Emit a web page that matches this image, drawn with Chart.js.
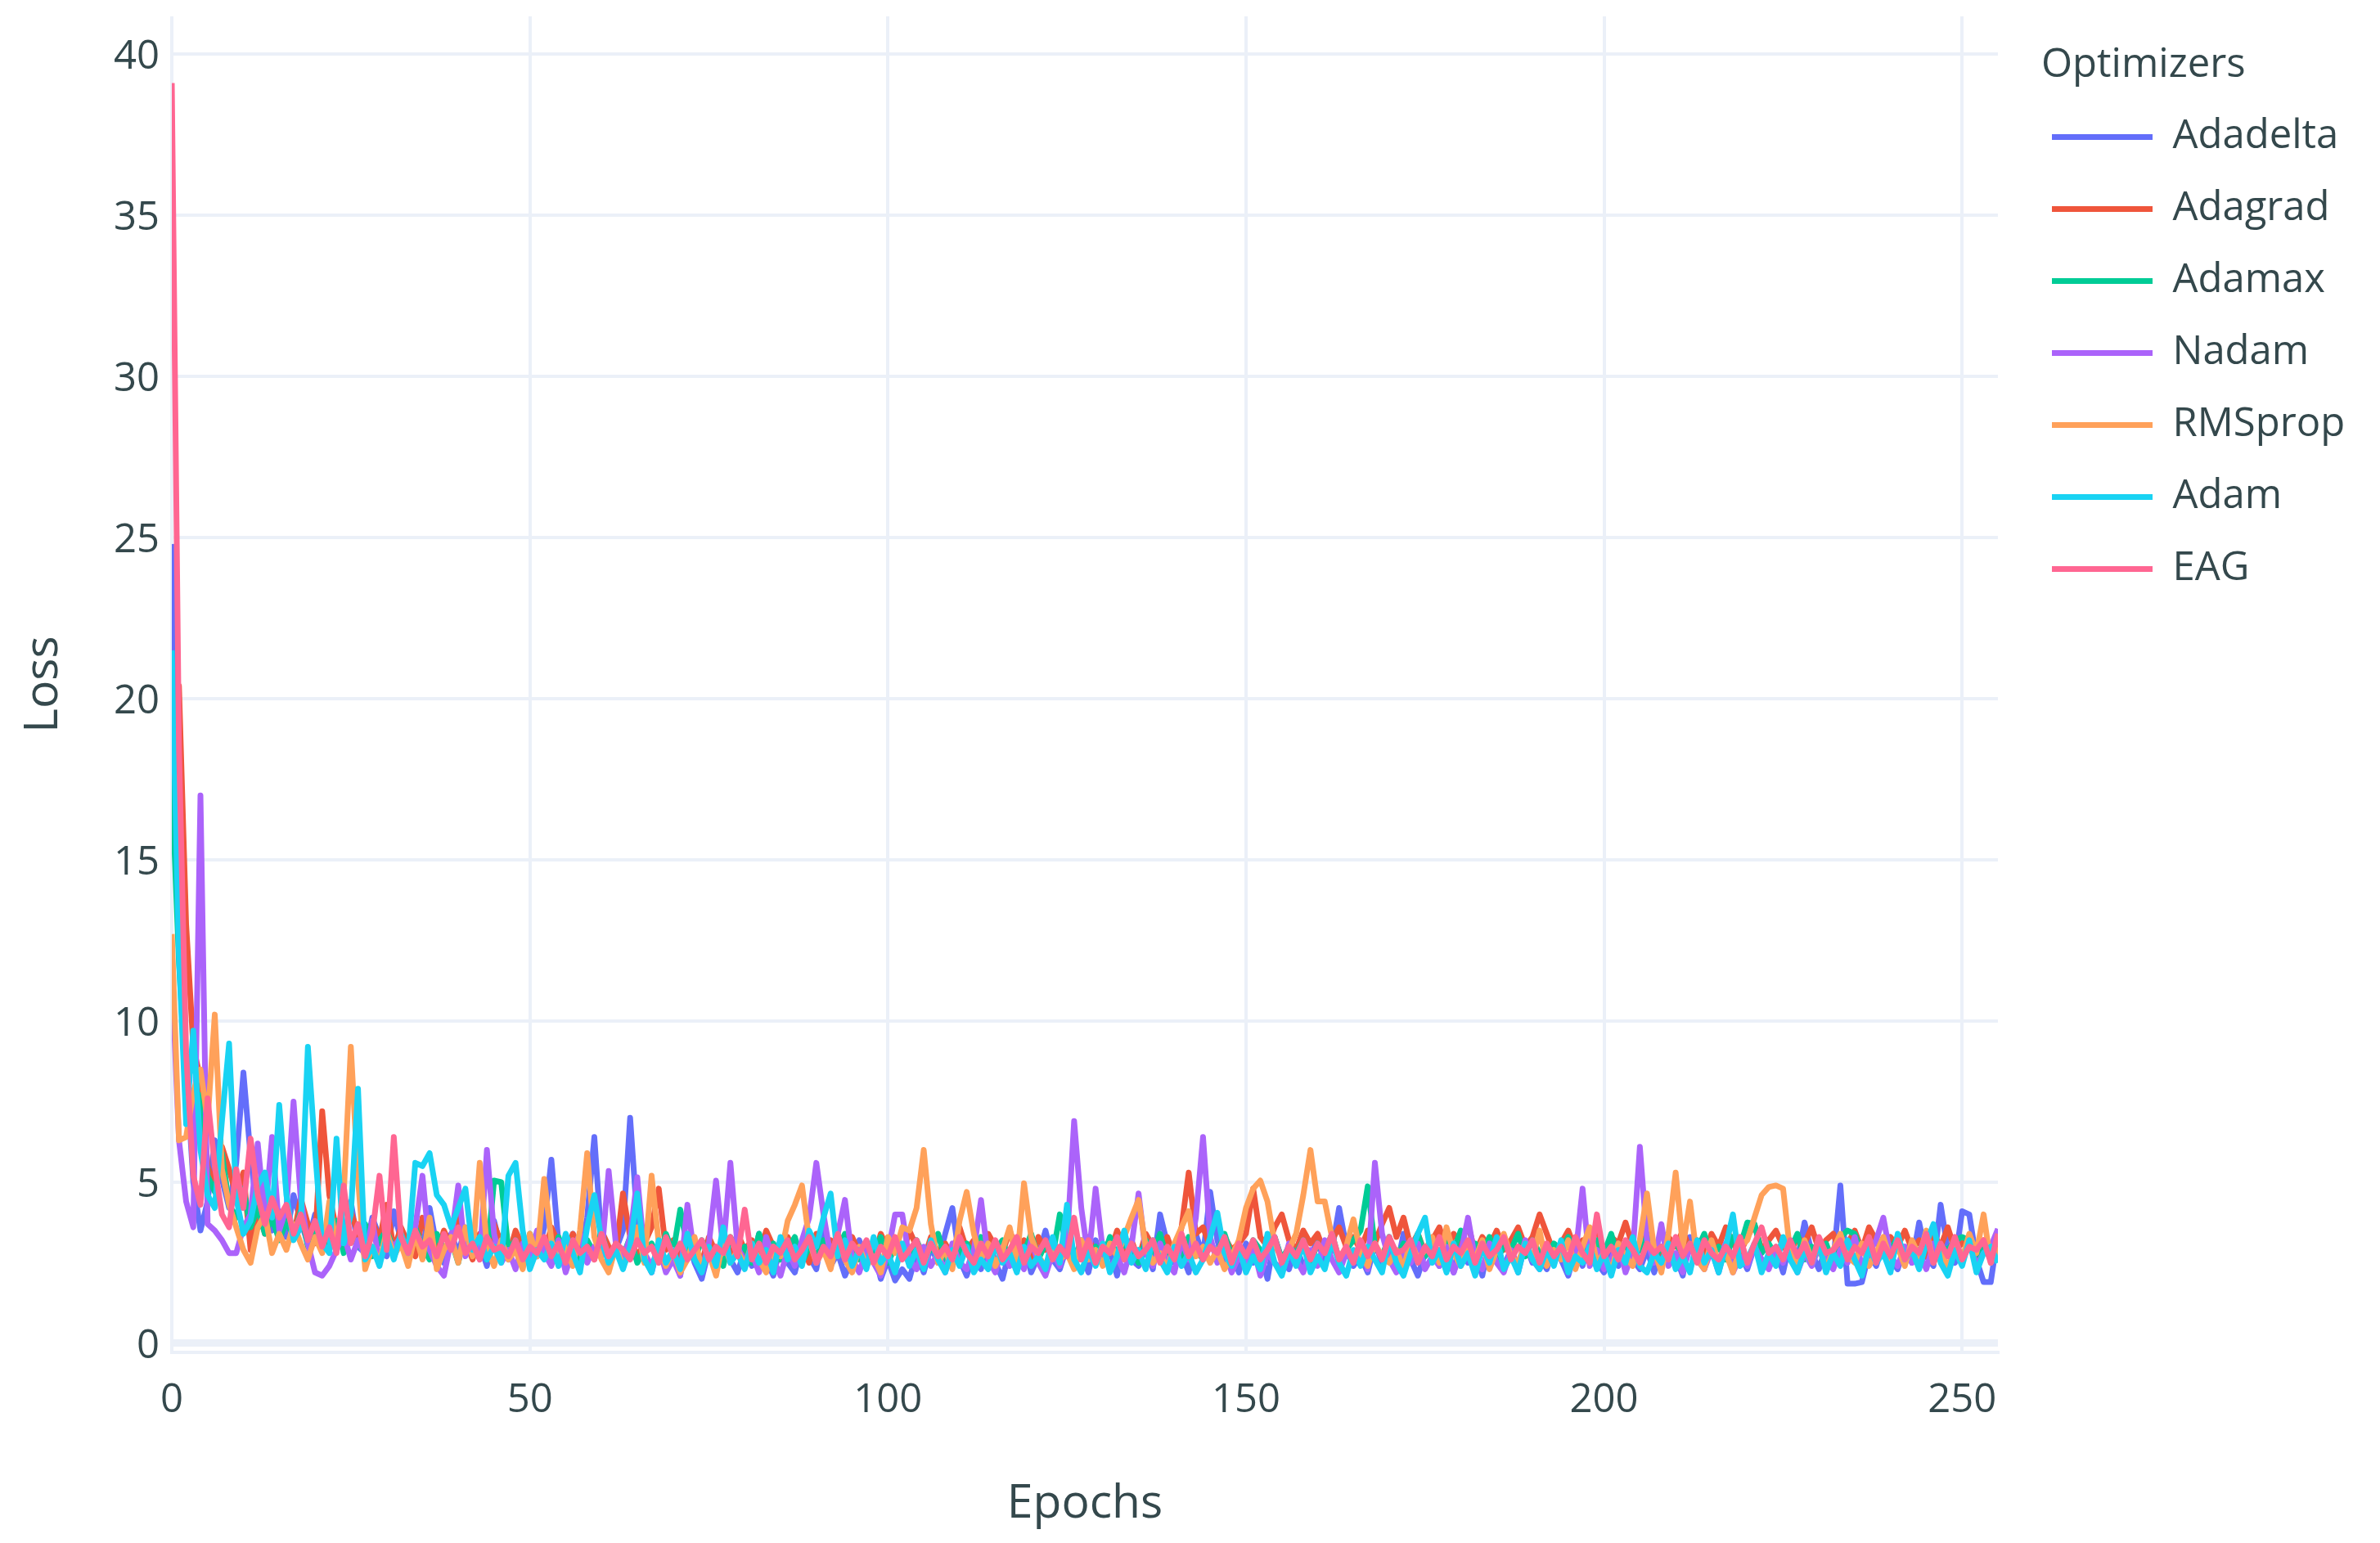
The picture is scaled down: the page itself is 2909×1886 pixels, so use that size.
<!DOCTYPE html>
<html>
<head>
<meta charset="utf-8">
<script src="https://cdn.jsdelivr.net/npm/chart.js@4.4.1/dist/chart.umd.min.js"></script>
<style>
  html, body { margin: 0; padding: 0; background: #ffffff; }
  #wrap { width: 2909px; height: 1886px; position: relative; }
  canvas { display: block; }
</style>
</head>
<body>
<div id="wrap"><canvas id="c" width="2909" height="1886"></canvas></div>
<script>
const seriesNames = ['Adadelta', 'Adagrad', 'Adamax', 'Nadam', 'RMSprop', 'Adam', 'EAG'];
const seriesColors = ['#636EFA', '#EF553B', '#00CC96', '#AB63FA', '#FFA15A', '#19D3F3', '#FF6692'];
const xTicks = [0, 50, 100, 150, 200, 250];
const yTicks = [0, 5, 10, 15, 20, 25, 30, 35, 40];
const xTitle = 'Epochs';
const yTitle = 'Loss';
const legendTitle = 'Optimizers';

const adadelta = [
 24.8,13.2,8.6,5.0,3.5,4.4,6.3,5.1,4.2,5.6,8.4,5.8,3.9,4.5,3.5,4.1,
 3.3,4.6,3.8,3.1,4.0,3.4,2.9,3.7,3.2,4.4,3.0,2.8,3.9,3.3,2.7,4.1,
 3.2,2.6,3.5,2.9,4.2,3.0,2.5,3.4,2.8,3.6,2.7,3.1,2.4,3.8,2.9,2.6,
 3.3,2.4,3.0,2.7,3.6,5.7,3.1,2.5,3.4,2.8,3.9,6.4,3.2,2.6,2.9,3.5,
 7.0,3.8,2.7,2.2,3.1,2.4,2.8,2.1,3.3,2.5,2.0,2.9,2.3,3.2,2.6,2.2,
 2.9,2.4,3.4,2.6,2.1,3.0,2.5,2.2,3.1,2.7,2.3,3.5,2.4,2.8,2.1,2.6,
 3.2,2.4,2.9,2.0,2.6,1.95,2.3,2.0,2.8,2.2,3.0,2.5,3.4,4.2,2.6,2.1,
 2.8,2.3,3.3,2.5,2.0,2.9,2.4,3.1,2.2,2.7,3.5,2.6,2.3,3.0,2.4,2.8,
 2.2,3.2,2.5,2.9,2.1,3.3,2.6,2.4,3.0,2.3,4.0,3.1,2.5,2.8,2.2,3.4,
 2.7,4.7,3.2,2.4,2.9,2.2,3.1,2.5,2.8,2.0,3.3,2.6,2.3,3.0,2.4,2.7,
 3.2,2.5,2.9,4.2,3.0,2.4,2.7,2.2,3.1,2.5,2.9,2.3,3.4,2.6,2.1,2.8,
 3.0,2.4,2.7,2.2,3.3,2.5,2.8,2.1,3.2,2.6,2.4,2.9,2.2,3.1,2.5,2.7,
 2.3,3.0,2.6,2.1,2.9,2.4,3.2,2.5,2.2,2.8,2.4,3.1,2.6,2.3,2.9,2.2,
 3.0,2.5,2.7,2.1,3.3,2.6,2.4,2.9,2.2,3.1,2.5,2.8,2.3,3.0,2.6,2.4,
 2.9,2.2,3.2,2.6,3.75,2.8,2.3,3.0,2.5,4.9,1.85,1.85,1.9,2.8,2.4,3.1,
 2.6,2.3,3.0,2.5,3.75,2.7,2.4,4.3,2.9,2.5,4.1,4.0,2.6,1.9,1.9,3.4
];
const adagrad = [
 16.0,20.4,13.0,9.2,8.2,5.5,4.9,6.1,5.4,4.6,5.3,2.9,4.2,3.4,4.4,3.6,
 4.0,3.3,4.5,3.7,3.1,7.2,4.6,3.5,3.0,4.1,3.4,2.8,3.8,3.2,4.3,2.9,
 3.6,3.1,2.7,3.9,3.3,2.8,3.5,3.0,4.0,3.2,2.6,3.4,2.9,3.7,3.1,2.7,
 3.5,3.0,2.6,3.3,2.8,3.6,3.1,2.7,3.4,2.9,3.2,2.6,3.5,3.0,2.8,4.65,
 3.3,2.7,3.1,3.6,4.8,2.9,3.2,2.6,3.4,2.9,2.5,3.3,2.8,3.0,2.6,3.4,
 2.9,3.2,2.7,3.5,3.0,2.6,3.3,2.8,3.1,2.5,3.4,2.9,3.2,2.7,3.0,3.3,
 2.8,3.1,2.6,3.4,2.9,3.2,2.7,3.5,3.0,2.6,3.3,2.8,3.1,2.7,3.6,2.9,
 3.2,2.6,3.4,3.0,2.8,3.5,2.9,3.2,2.6,3.3,2.9,3.1,2.7,3.4,2.8,3.0,
 3.3,2.7,3.1,2.8,3.5,2.9,3.2,2.6,3.4,3.0,2.8,3.3,2.7,3.6,5.3,3.4,
 3.6,3.0,2.8,3.3,2.9,3.1,3.4,4.8,3.3,3.0,3.6,4.0,3.2,2.9,3.5,3.1,
 3.4,2.8,3.2,3.6,3.0,3.3,2.9,3.5,3.1,3.7,4.2,3.3,3.9,3.0,3.4,2.8,
 3.2,3.6,2.9,3.4,3.1,3.7,2.8,3.3,3.0,3.5,2.9,3.2,3.6,3.0,3.3,4.0,
 3.4,2.8,3.1,3.5,2.9,3.2,3.0,3.6,2.8,3.3,3.1,3.75,3.0,2.9,3.4,3.1,
 2.8,3.3,3.0,3.5,2.9,3.2,2.7,3.4,3.0,3.6,3.1,2.8,3.3,3.7,2.9,3.2,
 3.5,3.0,2.8,3.3,3.1,3.6,2.9,3.2,3.4,2.8,3.1,3.5,2.9,3.6,3.2,2.8,
 3.3,3.0,3.5,2.9,3.2,2.7,3.4,3.0,3.6,2.9,3.1,3.3,2.8,3.2,3.0,3.4
];
const adamax = [
 17.5,11.8,8.0,6.4,7.7,5.2,4.7,5.9,4.3,3.9,4.8,3.6,4.2,3.4,3.9,3.2,
 3.8,3.3,4.1,3.0,3.6,2.9,3.4,3.8,2.8,3.3,3.0,3.7,2.7,3.2,3.5,2.9,
 3.3,2.7,3.6,3.0,2.6,3.4,2.9,3.2,2.5,3.5,2.8,3.1,2.6,5.05,5.0,2.9,
 3.2,2.5,3.4,2.8,3.1,2.6,3.3,2.7,3.0,2.4,3.2,2.8,3.5,2.6,3.0,2.7,
 3.3,2.5,2.9,3.1,2.6,3.4,2.8,4.15,3.0,2.6,3.2,2.7,2.9,2.4,3.3,2.8,
 3.0,2.5,3.4,2.7,3.1,2.6,2.9,3.3,2.5,3.0,2.7,3.2,2.6,2.9,3.4,2.8,
 2.6,3.1,2.7,3.3,2.5,3.0,2.8,2.6,3.2,2.7,2.9,3.4,2.6,3.0,2.8,3.1,
 2.7,3.3,2.6,2.9,3.2,2.5,3.0,2.8,3.4,2.6,3.1,2.7,4.0,2.9,2.6,3.2,
 2.8,3.0,2.6,3.3,2.7,3.1,2.9,2.5,3.2,2.8,3.4,2.6,3.0,2.7,3.3,2.9,
 2.6,3.1,2.8,3.4,2.7,3.0,2.5,3.2,2.9,2.7,3.3,2.6,3.0,2.8,3.2,2.5,
 3.1,2.8,3.4,2.6,2.9,3.2,3.5,4.87,3.0,2.7,3.3,2.6,3.1,2.8,3.4,2.7,
 3.0,2.6,3.2,2.9,3.5,2.7,3.1,2.8,3.3,2.6,3.0,2.9,3.4,2.7,3.2,2.8,
 2.6,3.1,2.9,3.3,2.7,3.0,2.5,3.2,2.8,3.4,2.6,3.1,2.7,2.9,3.3,2.6,
 3.0,2.8,3.2,2.6,3.1,2.9,3.4,2.7,3.0,2.6,3.3,3.0,3.75,3.7,2.8,3.1,
 2.7,3.2,2.9,3.4,2.6,3.0,2.8,3.1,2.5,3.3,3.5,3.4,2.8,3.2,2.6,3.0,
 2.9,3.3,2.7,3.1,2.8,3.4,2.6,3.0,2.9,3.2,3.3,3.2,2.7,3.0,2.8,3.1
];
const nadam = [
 11.5,6.3,4.4,3.6,17.0,3.7,3.5,3.2,2.8,2.8,3.6,4.0,6.2,3.9,6.4,3.5,
 4.2,7.5,4.5,3.1,2.2,2.1,2.4,2.9,3.4,2.6,3.2,2.7,3.8,2.5,3.3,3.0,
 3.3,2.8,3.6,5.2,2.9,2.4,2.1,3.2,4.9,2.7,3.3,2.6,6.0,3.4,2.5,2.9,
 2.3,3.1,2.6,3.5,2.8,2.4,3.2,2.2,2.9,3.4,2.5,3.0,2.7,5.35,3.1,2.6,
 3.3,5.15,2.8,2.4,3.0,2.2,2.6,2.1,4.3,2.7,2.3,3.1,5.05,2.9,5.6,3.0,
 2.5,2.8,2.2,3.3,2.6,2.1,2.9,2.4,3.2,3.9,5.6,4.0,2.7,3.4,4.45,2.6,
 2.2,2.9,2.5,2.1,2.8,4.0,4.0,2.6,2.3,3.0,2.4,2.8,2.2,3.1,2.5,2.3,
 2.9,4.45,2.6,2.2,3.0,2.4,2.7,2.3,3.2,2.5,2.1,2.8,2.4,3.1,6.9,4.2,
 2.6,4.8,2.9,2.3,2.7,2.2,3.0,4.65,2.8,2.4,3.1,2.5,2.2,3.2,2.6,3.9,
 6.4,3.3,2.5,2.9,2.2,2.7,2.4,3.0,2.1,2.8,2.5,2.3,3.1,2.6,2.2,2.9,
 2.4,3.2,2.6,2.2,2.8,2.5,3.0,2.3,5.6,3.4,2.6,2.2,2.9,2.5,3.1,2.3,
 2.7,2.4,3.0,2.2,2.8,3.9,2.6,2.3,3.1,2.5,2.2,2.9,2.4,3.2,2.6,2.3,
 2.8,2.5,3.0,2.2,2.7,4.8,2.4,2.9,2.3,2.6,3.1,2.2,2.8,6.1,3.2,2.5,
 3.7,2.4,2.8,2.2,3.0,2.6,2.3,2.9,2.5,3.1,2.2,2.7,2.4,3.0,2.6,2.3,
 2.9,2.5,3.2,2.2,2.8,2.4,3.0,2.6,2.3,2.9,2.5,3.3,2.4,2.8,3.2,3.9,
 2.7,2.4,3.0,2.5,2.8,2.3,3.1,2.6,2.2,2.9,2.5,3.2,2.4,2.8,3.0,3.55
];
const rmsprop = [
 12.7,6.3,6.4,7.8,8.5,6.9,10.2,5.4,4.3,3.6,2.9,2.5,3.6,4.0,2.8,3.4,
 2.9,3.7,3.1,2.6,3.3,2.8,4.4,3.0,4.6,9.2,5.1,2.3,3.0,2.5,3.5,2.7,
 3.1,2.4,3.4,2.6,3.9,2.3,2.9,3.3,2.5,3.6,2.7,5.6,3.0,2.4,3.2,2.6,
 2.9,2.3,3.4,2.7,5.1,3.2,2.5,3.0,2.4,3.5,5.9,3.3,2.6,2.2,3.0,2.4,
 2.8,3.6,2.5,5.2,3.1,2.4,2.9,2.2,2.6,3.3,2.3,2.8,2.1,3.2,2.5,2.9,
 2.4,3.1,2.6,2.2,3.0,2.7,3.8,4.3,4.9,3.2,2.5,2.9,2.3,3.3,2.6,2.2,
 3.0,2.4,2.7,2.2,3.3,2.8,3.6,3.5,4.2,6.0,3.7,2.5,2.9,2.3,3.8,4.7,
 3.4,2.6,3.1,2.4,2.9,3.6,2.5,4.97,3.3,2.7,2.4,3.0,2.6,2.8,2.3,3.2,
 2.6,2.9,2.4,3.1,2.7,3.3,3.9,4.45,3.0,2.5,2.8,2.3,3.1,3.6,4.1,2.7,
 3.0,2.5,2.9,2.3,2.7,3.2,4.2,4.8,5.05,4.4,3.1,2.6,2.9,3.4,4.6,6.0,
 4.4,4.4,3.3,2.6,3.0,3.85,2.8,2.4,3.1,2.7,2.5,2.9,2.3,3.2,2.6,2.9,
 3.3,2.5,3.6,2.8,2.4,3.0,2.6,3.2,2.3,2.9,3.4,2.7,2.5,3.1,2.6,3.5,
 2.4,2.9,2.6,3.2,2.3,3.0,3.6,2.5,2.8,2.2,3.1,2.7,2.4,3.2,4.65,2.9,
 2.2,3.4,5.3,3.0,4.4,2.6,2.3,3.2,2.5,2.8,2.2,3.0,3.2,3.9,4.6,4.85,
 4.9,4.8,2.8,2.4,3.2,2.6,3.0,2.3,2.9,3.4,2.7,2.5,3.1,2.4,2.8,3.3,
 2.6,3.0,2.4,3.2,2.7,3.5,2.5,2.9,2.3,3.1,2.6,3.4,2.8,4.0,2.5,3.0
];
const adam = [
 21.5,12.0,6.8,9.7,6.0,4.6,4.2,6.9,9.3,4.5,3.4,3.8,4.9,5.3,3.9,7.4,
 4.6,3.2,3.6,9.2,6.0,3.1,2.8,6.35,3.1,4.0,7.9,2.6,3.0,2.4,3.3,2.6,
 3.4,2.8,5.6,5.5,5.9,4.6,4.3,3.6,4.2,4.8,2.9,3.3,2.6,3.0,2.5,5.2,
 5.6,3.5,2.3,2.9,2.6,3.1,2.4,3.4,2.8,2.2,3.6,4.6,3.2,2.5,2.9,2.3,
 3.0,4.65,2.6,2.2,3.2,2.5,2.9,2.3,3.4,2.6,2.2,3.0,2.4,3.6,2.5,2.8,
 2.3,3.1,2.5,2.9,2.2,3.3,2.6,3.0,2.4,3.5,3.0,3.9,4.65,2.7,3.2,2.4,
 2.9,2.3,3.3,2.5,2.8,2.2,3.1,2.4,2.9,2.3,3.2,2.6,2.2,2.9,2.4,3.0,
 2.2,2.6,2.3,3.1,2.5,2.8,2.2,3.0,2.4,2.7,2.3,3.3,2.5,4.3,2.6,2.2,
 2.9,2.4,3.1,2.2,2.7,3.5,2.5,2.9,2.3,3.2,2.6,2.2,3.0,2.4,2.8,2.2,
 2.6,3.3,4.05,2.8,2.4,3.0,2.2,2.7,2.3,3.4,2.5,2.1,2.9,2.4,3.1,2.2,
 2.7,2.3,3.2,2.5,2.1,2.9,2.4,3.0,2.6,2.2,3.3,2.5,2.1,2.8,3.4,3.9,
 2.5,2.9,2.2,3.1,2.4,2.8,2.1,3.0,2.5,3.3,2.3,2.7,2.2,3.1,2.6,2.3,
 2.9,2.4,3.2,2.2,2.7,2.5,3.0,2.3,2.8,2.1,2.9,2.5,3.3,2.4,2.2,2.8,
 2.5,3.1,2.3,2.7,2.2,3.2,2.5,2.9,2.2,3.0,4.0,2.4,2.6,3.1,2.2,2.8,
 2.4,3.3,2.6,2.2,2.9,2.5,3.1,2.2,2.8,2.4,3.2,2.6,2.1,3.0,2.5,2.8,
 2.2,3.4,2.6,2.9,2.3,3.1,3.7,2.5,2.1,2.9,2.4,3.2,2.2,2.8,3.0,2.5
];
const eag = [
 39.1,18.5,9.0,5.2,4.3,7.6,5.5,4.0,3.6,5.4,4.2,6.35,4.6,3.7,4.5,3.9,
 4.3,3.4,4.0,3.2,3.8,3.0,3.6,2.8,4.9,3.1,3.7,2.7,3.4,5.2,2.9,6.4,
 3.3,2.8,3.5,3.0,3.2,2.7,3.4,2.9,3.6,2.8,3.1,2.6,3.3,2.9,3.0,2.7,
 3.2,2.6,3.0,2.8,3.3,2.7,3.1,2.5,3.2,2.8,3.0,2.6,3.4,2.7,3.1,2.9,
 2.6,3.2,2.8,3.0,2.5,3.3,2.7,3.1,2.6,2.9,3.2,2.6,3.0,2.8,3.3,2.7,
 4.15,2.6,3.1,2.5,3.0,2.8,3.2,2.6,2.9,3.3,2.5,3.0,2.7,3.4,2.6,3.1,
 2.8,3.2,2.5,3.0,2.7,3.3,2.6,2.9,3.2,2.5,3.1,2.7,3.0,2.6,3.3,2.8,
 2.5,3.1,2.7,3.2,2.6,2.9,3.3,2.5,3.0,2.8,3.2,2.6,3.0,2.7,3.9,2.6,
 3.2,2.5,3.0,2.8,3.3,2.6,3.1,2.7,2.9,3.2,2.5,3.0,2.6,3.4,2.7,3.1,
 2.6,3.0,2.8,3.3,2.5,3.1,2.7,3.2,2.6,2.9,3.3,2.5,3.0,2.7,3.2,2.6,
 3.1,2.8,3.4,2.6,3.0,2.5,3.2,2.7,3.1,2.6,3.3,2.8,2.9,3.2,2.5,3.0,
 2.7,3.3,2.6,3.0,2.8,3.2,2.5,3.1,2.7,2.9,3.3,2.6,3.0,2.8,3.2,2.5,
 3.1,2.7,3.0,2.6,3.3,2.8,2.5,4.0,2.7,3.0,2.6,3.2,2.9,2.5,3.1,2.8,
 3.0,2.6,3.3,2.7,3.1,2.5,3.2,2.8,2.6,3.0,2.7,3.3,2.5,3.1,3.6,2.8,
 3.0,2.6,3.2,2.7,3.1,2.5,3.3,2.8,2.9,3.2,2.6,3.0,2.8,3.3,2.5,3.1,
 2.7,3.2,2.6,3.0,2.8,3.4,2.5,3.1,2.7,3.3,2.6,3.0,2.9,3.2,2.5,3.4
];
const seriesValues = [adadelta, adagrad, adamax, nadam, rmsprop, adam, eag];
const epochs = adadelta.map((_, i) => i);

const FONT = "'Open Sans', sans-serif";
const TEXT = '#34484c';
const GRID = '#EBF0F8';
const TICK_SIZE = 49, LEG_SIZE = 49, TITLE_SIZE = 57;

// legend geometry
const LEG_PAD = 13, LEG_BOX = 123, LEG_LEFT = 2495, PLOT_RIGHT = 2442;
const mctx = document.createElement('canvas').getContext('2d');
mctx.font = LEG_SIZE + 'px ' + FONT;
const maxTextW = Math.max(...seriesNames.map(n => mctx.measureText(n).width));
const legendWidth = LEG_PAD + LEG_BOX + LEG_SIZE / 2 + maxTextW + 10;
const padRight = 2909 - LEG_LEFT - legendWidth;

const datasets = seriesNames.map((name, i) => ({
  label: name,
  data: seriesValues[i],
  borderColor: seriesColors[i],
  backgroundColor: seriesColors[i],
  borderWidth: 7,
  pointRadius: 0,
  pointHoverRadius: 0,
  tension: 0,
  borderJoinStyle: 'round',
  order: seriesNames.length - 1 - i
}));

new Chart(document.getElementById('c'), {
  type: 'line',
  data: { labels: epochs, datasets },
  options: {
    responsive: false,
    animation: false,
    devicePixelRatio: 1,
    layout: { padding: { top: 20, left: 0, bottom: 0, right: padRight } },
    plugins: {
      tooltip: { enabled: false },
      legend: {
        position: 'right',
        align: 'start',
        title: {
          display: true,
          text: legendTitle,
          color: TEXT,
          position: 'start',
          font: { family: FONT, size: LEG_SIZE },
          padding: { top: 36, bottom: 15.2 }
        },
        labels: {
          color: TEXT,
          font: { family: FONT, size: LEG_SIZE, lineHeight: 75 / LEG_SIZE },
          padding: LEG_PAD,
          boxWidth: LEG_BOX,
          boxHeight: 7,
          generateLabels: (chart) => chart.data.datasets.map((ds, i) => ({
            text: [ds.label],
            fillStyle: ds.borderColor,
            strokeStyle: ds.borderColor,
            lineWidth: 0,
            fontColor: TEXT,
            hidden: false,
            datasetIndex: i
          }))
        }
      }
    },
    scales: {
      x: {
        type: 'linear',
        min: 0,
        max: 255,
        afterBuildTicks: (s) => { s.ticks = xTicks.map(v => ({ value: v })); },
        afterFit: (s) => { s.height = 1886 - 1653; s.paddingLeft = 0; s.paddingRight = 0; },
        grid: { color: GRID, lineWidth: 4, drawTicks: false },
        border: { display: true, color: GRID, width: 4 },
        ticks: { color: TEXT, font: { family: FONT, size: TICK_SIZE }, padding: 30, maxRotation: 0, autoSkip: false },
        title: { display: true, text: xTitle, color: TEXT, font: { family: FONT, size: TITLE_SIZE }, padding: { top: 0, bottom: 13 } }
      },
      y: {
        type: 'linear',
        min: -0.28,
        max: 41.17,
        afterBuildTicks: (s) => { s.ticks = yTicks.map(v => ({ value: v })); },
        afterFit: (s) => { s.width = 210; s.paddingTop = 0; s.paddingBottom = 0; },
        grid: {
          color: GRID,
          lineWidth: (c) => (c.tick && c.tick.value === 0 ? 9 : 4),
          drawTicks: false
        },
        border: { display: false },
        ticks: { color: TEXT, font: { family: FONT, size: TICK_SIZE }, padding: 15, labelOffset: 4 },
        title: { display: true, text: yTitle, color: TEXT, font: { family: FONT, size: TITLE_SIZE }, padding: { top: 20, bottom: 0 } }
      },
      yRight: {
        type: 'linear',
        position: 'right',
        display: true,
        grid: { display: false, drawTicks: false },
        border: { display: false },
        ticks: { display: false },
        afterFit: (s) => { s.width = LEG_LEFT - PLOT_RIGHT; }
      }
    }
  }
});
</script>
</body>
</html>
